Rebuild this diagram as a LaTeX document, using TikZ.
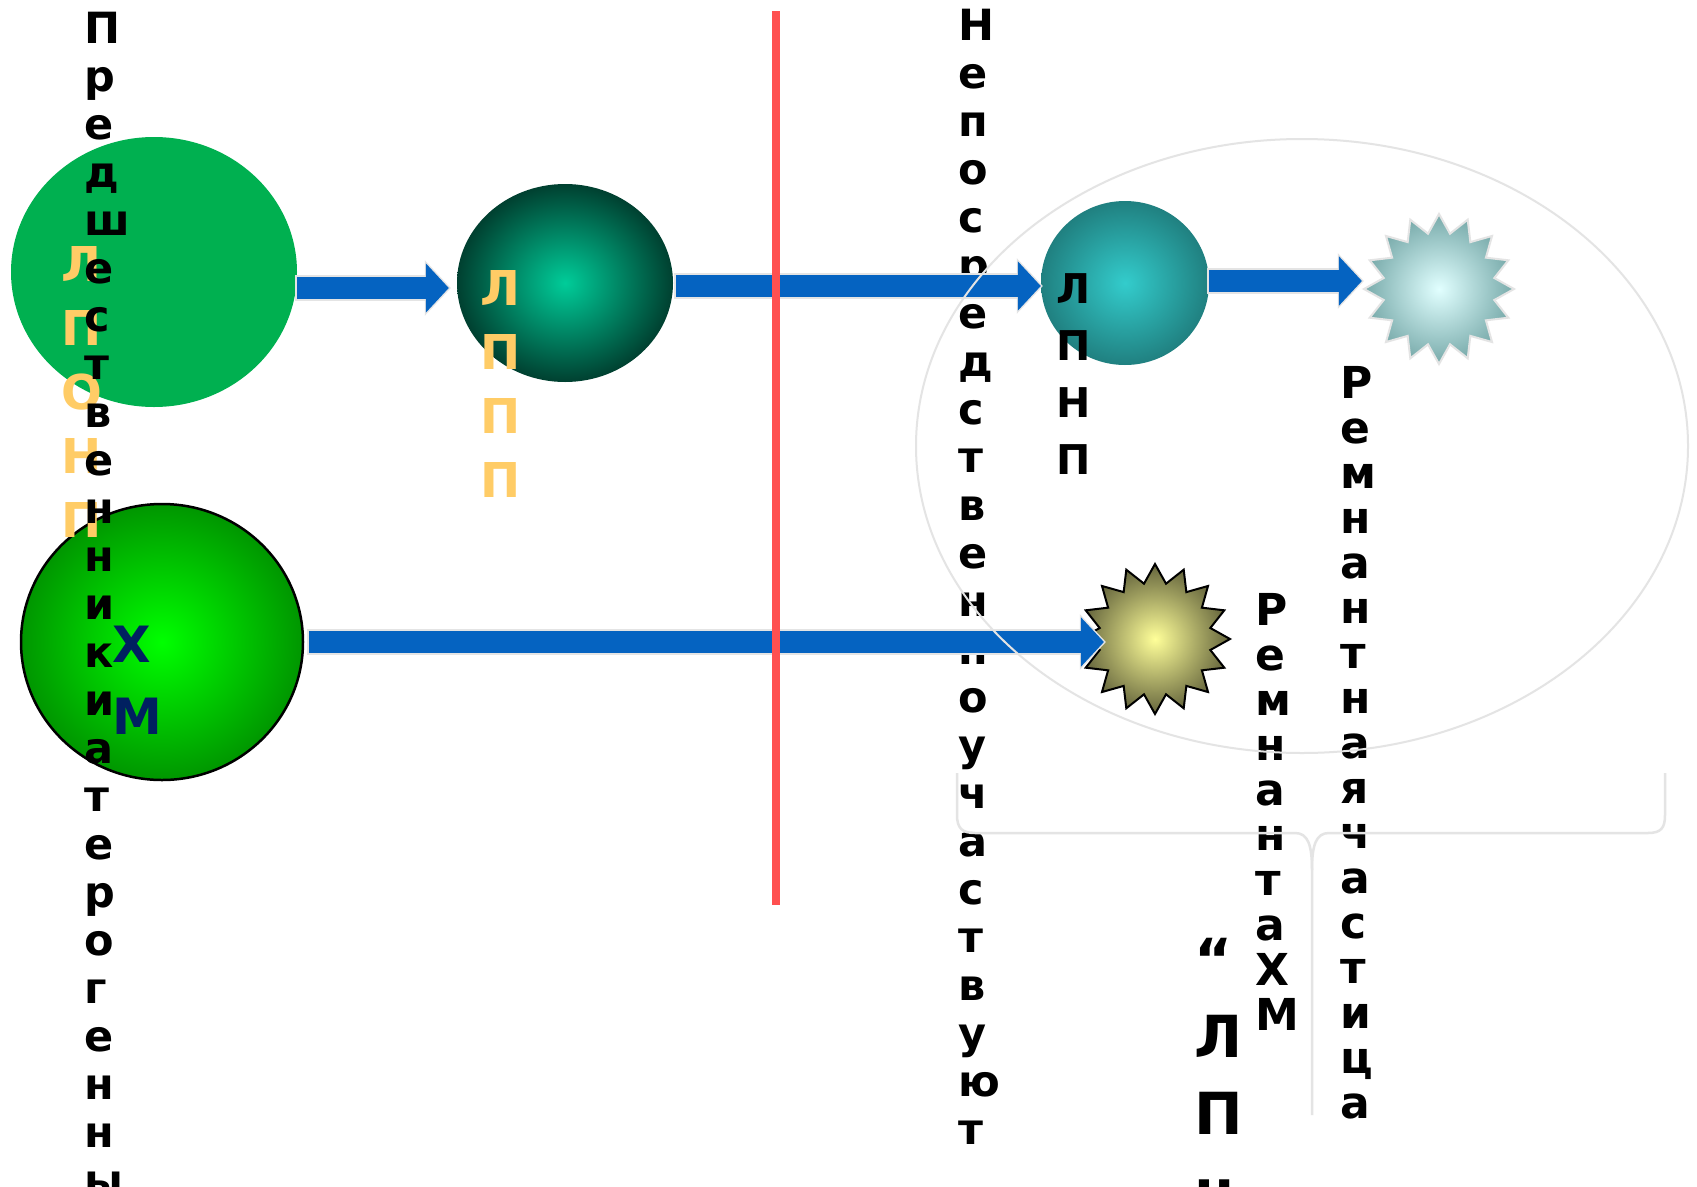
\documentclass[tikz,border=0pt]{standalone}
\usepackage{xcolor}
\usepackage{tikz}
\usepackage{fontspec}
\setmainfont{DejaVu Sans}
\usetikzlibrary{shapes.geometric, arrows.meta, positioning, calc}

\definecolor{lponpgreen}{RGB}{0,176,80}
\definecolor{lpppin}{RGB}{0,204,153}
\definecolor{lpppout}{RGB}{0,64,48}
\definecolor{lpnpin}{RGB}{51,204,204}
\definecolor{lpnpout}{RGB}{32,128,128}
\definecolor{remin}{RGB}{225,255,255}
\definecolor{remout}{RGB}{120,170,170}
\definecolor{hmremin}{RGB}{255,255,153}
\definecolor{hmremout}{RGB}{100,100,60}
\definecolor{hmin}{RGB}{0,255,0}
\definecolor{hmout}{RGB}{0,150,0}
\definecolor{arrowblue}{RGB}{5,99,193}
\definecolor{edgegray}{RGB}{228,228,228}
\definecolor{bordred}{RGB}{255,80,80}
\definecolor{lpyellow}{RGB}{255,204,102}
\definecolor{hmnavy}{RGB}{0,32,96}

\begin{document}
\begin{tikzpicture}[x=1pt, y=-1pt]
    % Styles
    \tikzstyle{particle} = [ellipse, inner sep=0pt]
    \tikzstyle{remnant} = [star, star points=16, star point ratio=1.33, minimum size=150pt, inner sep=0pt]
    \tikzstyle{letters} = [anchor=north west, inner sep=0pt, align=left]
    \tikzstyle{blacktext} = [letters, font=\bfseries\fontsize{43}{48}\selectfont]
    \tikzstyle{tighttext} = [letters, font=\bfseries\fontsize{44}{45}\selectfont]
    \tikzstyle{lptext} = [letters, text=lpyellow, font=\bfseries\fontsize{48}{64}\selectfont]
    \tikzstyle{flow} = [draw=arrowblue, line width=22pt, -{Triangle[length=23pt,width=48pt]},
        preaction={draw=edgegray, line width=26pt, -{Triangle[length=26pt,width=54pt]}, shorten >=-2pt, shorten <=-2pt}]

    \fill[white] (0,0) rectangle (1697,1186);
    \useasboundingbox (0,0) rectangle (1697,1186);
    \clip (0,0) rectangle (1697,1186);

    % Particles
    \node[particle, fill=lponpgreen, minimum width=286pt, minimum height=270pt] (lponp) at (154,272) {};
    \node[particle, inner color=lpppin, outer color=lpppout, minimum width=216pt, minimum height=198pt] (lppp) at (565,283) {};
    \node[particle, inner color=lpnpin, outer color=lpnpout, minimum width=168pt, minimum height=164pt] (lpnp) at (1125,283) {};
    \node[particle, draw=black, line width=2.5pt, inner color=hmin, outer color=hmout, minimum width=282pt, minimum height=276pt] (hm) at (162,642) {};

    % Remnants
    \node[remnant, draw=edgegray, line width=2pt, inner color=remin, outer color=remout] (rem) at (1439,289) {};
    \node[remnant, draw=black, line width=2pt, inner color=hmremin, outer color=hmremout] (hmrem) at (1155,639) {};

    % Labels
    \node[lptext] (lponplabel) at (61,246) {Л\\П\\О\\Н\\П};
    \node[lptext] (lppplabel) at (480,270) {Л\\П\\П\\П};
    \node[letters, text=hmnavy, font=\bfseries\fontsize{50}{72}\selectfont] (hmlabel) at (112,626) {Х\\М};
    \node[blacktext] (precursors) at (84,12) {П\\р\\е\\д\\ш\\е\\с\\т\\в\\е\\н\\н\\и\\к\\и\\а\\т\\е\\р\\о\\г\\е\\н\\н\\ы};
    \node[blacktext] (direct) at (958,9) {Н\\е\\п\\о\\с\\р\\е\\д\\с\\т\\в\\е\\н\\н\\о\\у\\ч\\а\\с\\т\\в\\у\\ю\\т};
    \node[letters, font=\bfseries\fontsize{41}{57}\selectfont] (lpnplabel) at (1056,273) {Л\\П\\Н\\П};
    \node[tighttext] (remlabel) at (1340,366) {Р\\е\\м\\н\\а\\н\\т\\н\\а\\я\\ч\\а\\с\\т\\и\\ц\\а};
    \node[tighttext] (hmremlabel) at (1255,593) {Р\\е\\м\\н\\а\\н\\т\\а\\Х\\М};
    \node[letters, font=\bfseries\fontsize{58}{77}\selectfont] (quotelabel) at (1194,938) {“\\Л\\П\\н};

    % Arrows
    \draw[flow] ([yshift=-16pt]lponp.east) -- ([xshift=-8pt,yshift=-5pt]lppp.west);
    \draw[flow] ([xshift=3pt,yshift=-3pt]lppp.east) -- ([yshift=-3pt]lpnp.west);
    \draw[flow] ([yshift=2pt]lpnp.east) -- ([yshift=2pt]lpnp.east -| rem.west);
    \draw[flow] ([xshift=5pt]hm.east) -- ([xshift=26pt]hm.east -| hmrem.west);

    % Remnant group and brace
    \node[ellipse, draw=edgegray, line width=2pt, minimum width=772pt, minimum height=614pt] (remgroup) at (1302,446) {};
    \draw[edgegray, line width=2.5pt] (957,773) -- (957,815) .. controls (957,828) and (962,833) .. (975,833)
        -- (1295,833) .. controls (1308,833) and (1312,845) .. (1312,870) -- (1312,1115);
    \draw[edgegray, line width=2.5pt] (1312,870) .. controls (1312,845) and (1316,833) .. (1329,833)
        -- (1648,833) .. controls (1661,833) and (1665,828) .. (1665,815) -- (1665,773);

    % Border line
    \draw[bordred, line width=8pt] (776,11) -- (776,905);
\end{tikzpicture}
\end{document}
